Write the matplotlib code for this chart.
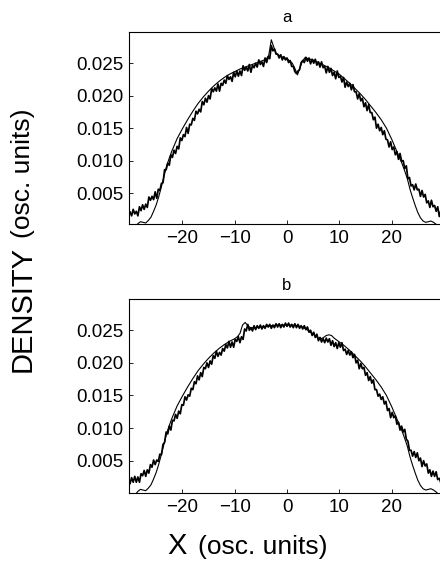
import numpy as np
import matplotlib
matplotlib.use("Agg")
import matplotlib.pyplot as plt

plt.rcParams['font.family'] = ['Liberation Sans', 'DejaVu Sans']

# grid of the noisy (measured) profiles
x_noisy = np.arange(-30, 30.001, 0.3)

# noisy density, panel a (units of 1e-4)
noisy_a = [
    21, 15, 25, 18, 22, 15, 29, 23, 32, 25,
    33, 28, 44, 39, 45, 40, 52, 42, 56, 54,
    65, 66, 86, 86, 96, 93, 109, 105, 116, 111,
    122, 118, 135, 131, 140, 137, 151, 142, 156, 155,
    165, 162, 176, 172, 179, 175, 191, 186, 196, 190,
    200, 195, 211, 206, 212, 207, 218, 207, 219, 216,
    224, 219, 231, 225, 229, 222, 236, 229, 238, 230,
    238, 231, 246, 239, 244, 238, 248, 236, 247, 243,
    250, 244, 255, 248, 252, 245, 258, 251, 260, 257,
    277, 269, 272, 264, 264, 258, 263, 255, 260, 255,
    258, 251, 254, 245, 245, 237, 234, 238, 240, 251,
    254, 251, 259, 253, 258, 249, 256, 250, 256, 247,
    252, 244, 252, 243, 245, 235, 245, 236, 242, 231,
    236, 226, 238, 228, 230, 221, 228, 213, 221, 214,
    219, 209, 217, 206, 206, 195, 203, 192, 196, 183,
    189, 177, 186, 174, 174, 163, 167, 150, 156, 146,
    151, 140, 146, 133, 132, 121, 129, 117, 121, 109,
    114, 102, 111, 99, 100, 88, 92, 72, 74, 61,
    63, 55, 64, 55, 56, 45, 54, 44, 48, 35,
    38, 28, 39, 29, 31, 22, 29, 14, 23, 17,
    19,
]

# noisy density, panel b (units of 1e-4)
noisy_b = [
    15, 24, 17, 26, 17, 25, 17, 30, 27, 35,
    26, 36, 31, 44, 40, 51, 44, 51, 49, 60,
    59, 75, 78, 94, 91, 103, 97, 112, 111, 121,
    115, 126, 122, 136, 135, 148, 143, 151, 149, 161,
    159, 171, 168, 180, 174, 185, 179, 193, 191, 200,
    193, 203, 198, 211, 207, 218, 210, 216, 212, 222,
    218, 228, 223, 233, 224, 232, 224, 236, 233, 240,
    231, 240, 236, 252, 249, 259, 250, 254, 249, 257,
    251, 257, 253, 258, 252, 257, 253, 259, 255, 259,
    253, 258, 254, 260, 255, 260, 254, 259, 255, 261,
    256, 261, 255, 259, 254, 260, 254, 259, 253, 257,
    252, 257, 251, 255, 247, 250, 242, 247, 239, 244,
    234, 239, 232, 237, 231, 238, 232, 237, 227, 234,
    225, 231, 222, 231, 224, 231, 219, 221, 213, 219,
    212, 217, 208, 213, 200, 204, 191, 199, 191, 193,
    181, 185, 173, 179, 169, 174, 159, 159, 149, 152,
    144, 148, 137, 141, 127, 130, 116, 124, 116, 119,
    106, 109, 97, 103, 94, 98, 83, 80, 66, 66,
    57, 64, 55, 62, 50, 54, 41, 50, 42, 45,
    31, 36, 26, 34, 26, 33, 21, 23, 16, 23,
    18,
]

# smooth (theory) profiles
x_smooth_a = [-30, -29, -28.5, -28, -27.5, -27, -26.5, -26, -25.5, -25,
              -24.5, -24, -23.5, -23, -22.5, -22, -21, -20, -19, -18,
              -17, -16, -15, -14, -13, -12, -11, -10, -9, -8,
              -7, -6, -5, -4, -3.5, -3, -2.5, -2, -1, 0,
              1, 1.5, 2, 2.5, 3, 3.5, 4, 5, 6, 7,
              8, 9, 10, 11, 12, 13, 14, 15, 16, 17,
              18, 19, 20, 21, 22, 22.5, 23, 23.5, 24, 24.5,
              25, 25.5, 26, 26.5, 27, 27.5, 28, 28.5, 29, 30]
smooth_a = [-5, -2, 3, 6, 5, 4, 8, 13, 22, 32,
            45, 60, 76, 92, 104, 115, 134, 149, 163, 176,
            188, 198, 207, 215, 222, 228, 233, 237, 241, 244,
            247, 250, 253, 256, 262, 286, 274, 264, 260, 257,
            250, 242, 232, 244, 254, 259, 257, 255, 251, 247,
            243, 238, 233, 226, 219, 211, 203, 194, 184, 174,
            163, 150, 133, 114, 95, 84, 72, 56, 43, 31,
            20, 12, 7, 5, 6, 7, 5, 2, -2, -5]

x_smooth_b = [-30, -29, -28.5, -28, -27.5, -27, -26.5, -26, -25.5, -25,
              -24.5, -24, -23.5, -23, -22.5, -22, -21, -20, -19, -18,
              -17, -16, -15, -14, -13, -12, -11, -10, -9.5, -9,
              -8.5, -8, -7.5, -7, -6, -5, -4, -3, -2, -1,
              0, 1, 2, 3, 4, 5, 6, 6.5, 7, 7.5,
              8, 8.5, 9, 10, 11, 12, 13, 14, 15, 16,
              17, 18, 19, 20, 21, 22, 22.5, 23, 23.5, 24,
              24.5, 25, 25.5, 26, 26.5, 27, 27.5, 28, 28.5, 29, 30]
smooth_b = [-5, -2, 3, 6, 5, 4, 8, 13, 22, 32,
            45, 60, 76, 92, 104, 115, 134, 149, 163, 176,
            188, 198, 207, 215, 222, 228, 233, 237, 240, 245,
            258, 262, 257, 254, 254, 255, 256, 257, 258, 258,
            258, 258, 257, 255, 250, 244, 238, 237, 239, 242,
            243, 242, 238, 232, 226, 219, 211, 203, 194, 184,
            174, 163, 150, 133, 114, 95, 84, 72, 56, 43,
            31, 20, 12, 7, 5, 6, 7, 5, 2, -2, -5]

titles = ['a', 'b']
x_ticks = [-20, -10, 0, 10, 20]
y_ticks = [0.005, 0.010, 0.015, 0.020, 0.025]
y_ticklabels = ['0.005', '0.010', '0.015', '0.020', '0.025']

fig = plt.figure(figsize=(4.4, 5.62), dpi=100)
W, H = 440.0, 562.0

# axes boxes in pixels: left, top, right, bottom
boxes = [(129, 32, 444, 224.3), (129, 299.3, 444, 493.3)]
ylims = [(0.0002, 0.0298), (0.0, 0.02975)]
panels = [(noisy_a, x_smooth_a, smooth_a), (noisy_b, x_smooth_b, smooth_b)]

for i in range(2):
    l, t, r, b = boxes[i]
    ax = fig.add_axes([l / W, 1 - b / H, (r - l) / W, (b - t) / H])
    noisy, xs, ys = panels[i]
    ax.plot(x_noisy, np.array(noisy) * 1e-4, color='black', lw=1.25)
    ax.plot(xs, np.array(ys) * 1e-4, color='black', lw=0.8)
    ax.set_xlim(-30.2, 30)
    ax.set_ylim(*ylims[i])
    ax.set_xticks(x_ticks)
    ax.set_xticklabels([str(v).replace('-', '\u2212') for v in x_ticks])
    ax.set_yticks(y_ticks)
    ax.set_yticklabels(y_ticklabels)
    ax.tick_params(direction='in', length=3, width=0.6, labelsize=13.5,
                   pad=4, top=False, right=False)
    for s in ax.spines.values():
        s.set_linewidth(0.8)
    ax.set_title(titles[i], fontsize=12, pad=7)

# axis labels, two sizes like the original
fig.text(23 / W, 1 - 372 / H, 'DENSITY', rotation=90, rotation_mode='anchor',
         ha='left', va='center', fontsize=21)
fig.text(23 / W, 1 - 238 / H, '(osc. units)', rotation=90, rotation_mode='anchor',
         ha='left', va='center', fontsize=19)
fig.text(167 / W, 1 - 554 / H, 'X', ha='left', va='baseline', fontsize=21)
fig.text(198 / W, 1 - 554 / H, '(osc. units)', ha='left', va='baseline', fontsize=19)

fig.savefig('out.png', dpi=100)
